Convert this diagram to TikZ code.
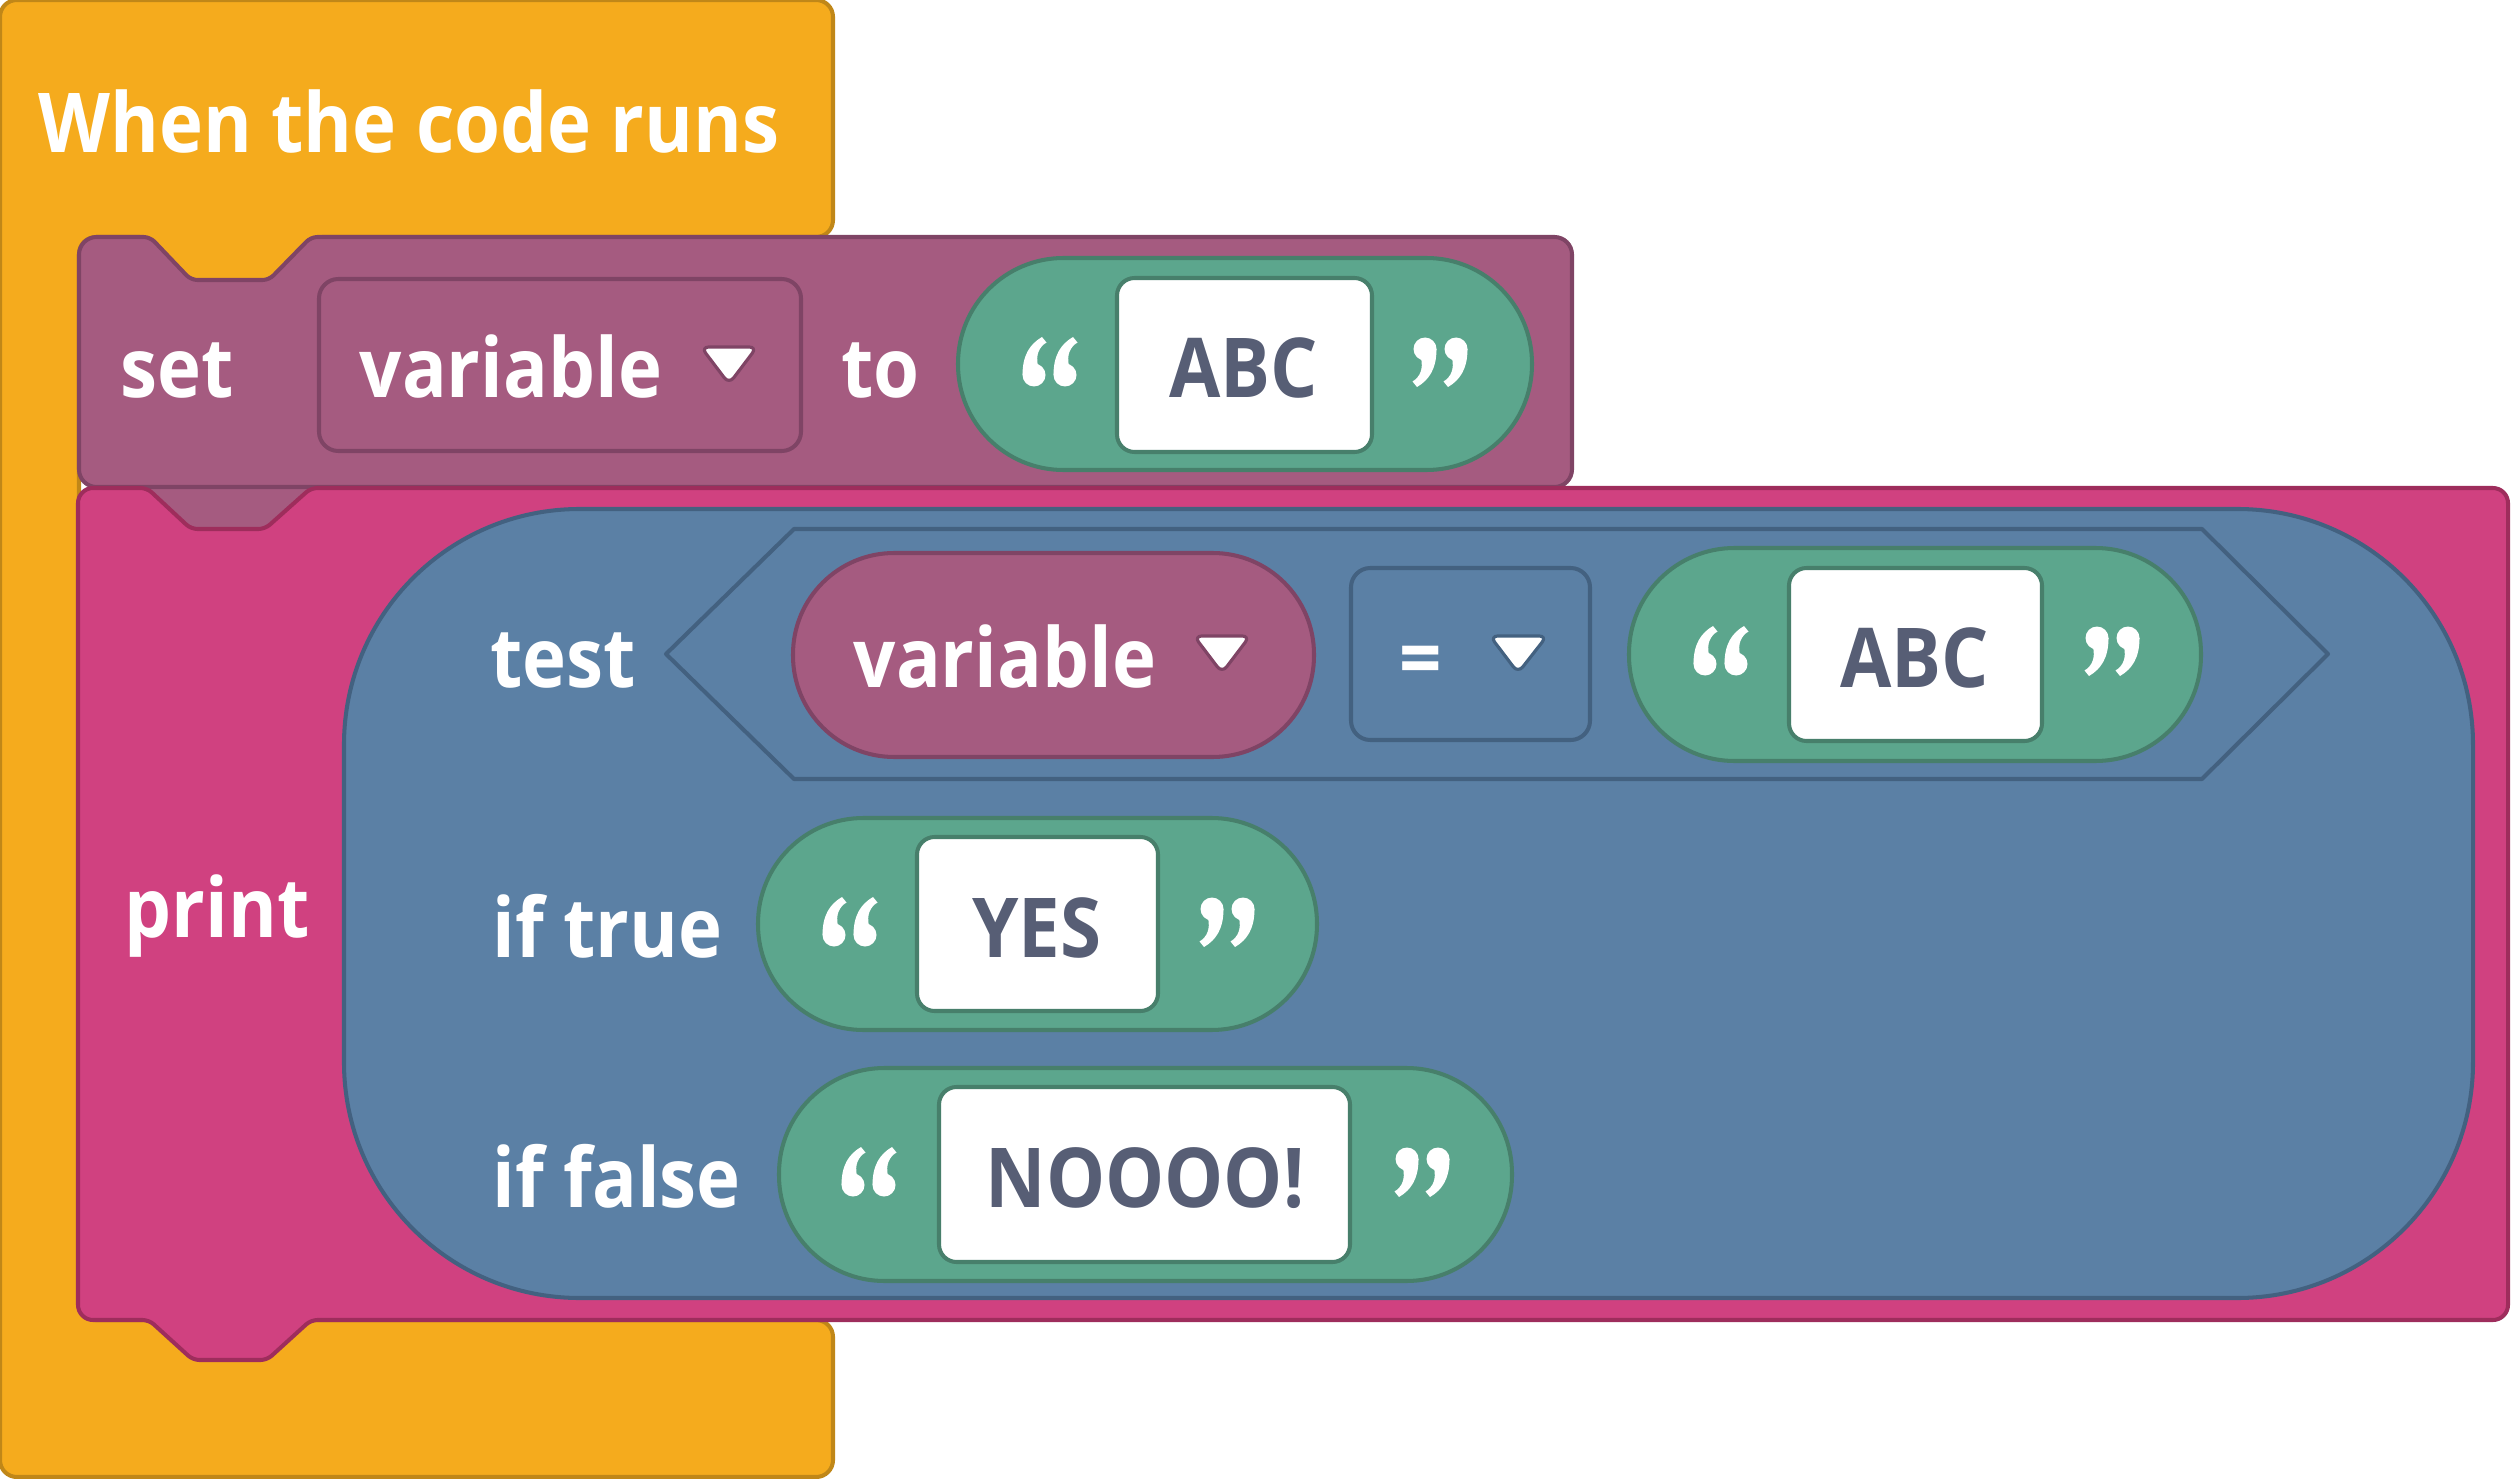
\documentclass[tikz,border=0pt]{standalone}
\usepackage{fontspec}
\setmainfont{Open Sans}[FakeStretch=0.9]
\definecolor{hatfill}{HTML}{F5AB1D}
\definecolor{hatline}{HTML}{C08718}
\definecolor{varfill}{HTML}{A55B80}
\definecolor{varline}{HTML}{7F4465}
\definecolor{printfill}{HTML}{D04180}
\definecolor{printline}{HTML}{9E2D5C}
\definecolor{logicfill}{HTML}{5B80A5}
\definecolor{logicline}{HTML}{436180}
\definecolor{strfill}{HTML}{5CA68D}
\definecolor{strline}{HTML}{477F6B}
\definecolor{ink}{HTML}{575E75}
\newcommand\lblfont{\fontsize{23.5}{28}\selectfont\bfseries}
\begin{document}
\begin{tikzpicture}[x=0.01cm,y=-0.01cm,line join=round,
  edge/.style={line width=1.15pt},
  hatblock/.style={edge,fill=hatfill,draw=hatline},
  varblock/.style={edge,fill=varfill,draw=varline},
  printblock/.style={edge,fill=printfill,draw=printline},
  logicblock/.style={edge,fill=logicfill,draw=logicline},
  strblock/.style={edge,fill=strfill,draw=strline},
  whitebox/.style={edge,fill=white,draw=strline},
  lbl/.style={text=white,font=\lblfont,inner sep=0pt,anchor=base west},
  val/.style={text=ink,font=\lblfont,inner sep=0pt,anchor=base},
  caret/.style={fill=white,draw=#1,line width=0.9pt,rounded corners=2.2pt},
  % opening double quote centred on its origin; rotate by 180 for closing
  dquote/.pic={
    \foreach \dx in {-16,15} {
      \begin{scope}[shift={(\dx,13)}]
        \fill[white] (0,0) circle[radius=11.5];
        \fill[white] (-11.5,0) .. controls (-11.5,-20) and (-4,-31) .. (8,-38)
          -- (12.5,-32.5) .. controls (5,-28) and (1.5,-20) .. (4,-9) -- cycle;
      \end{scope}
    }
  }]
\useasboundingbox (0,0) rectangle (2511,1479);

% hat block "When the code runs" (C-shaped)
\draw[hatblock,rounded corners=4.8pt] (0,700) -- (0,0) -- (833,0) -- (833,237)
  -- (79,237) -- (79,1320) -- (833,1320) -- (833,1477) -- (0,1477) -- cycle;
\fill[hatfill] (140,232) rectangle (322,292);

% set block
\fill[varfill] (140,480) rectangle (322,540);
\draw[varblock] (79,360) [rounded corners=5pt] -- (79,237) [rounded corners=1.8pt]
  -- (150,237) -- (191,280) -- (269,280) -- (311,237) [rounded corners=5pt]
  -- (1572,237) -- (1572,487) -- (79,487) -- cycle;

% print block
\draw[printblock] (78,900) [rounded corners=4.3pt] -- (78,488) [rounded corners=1.8pt]
  -- (147,488) -- (191,529) -- (265,529) -- (311,488) [rounded corners=4.3pt]
  -- (2508,488) -- (2508,1320) [rounded corners=1.8pt] -- (311,1320) -- (267,1360)
  -- (193,1360) -- (149,1320) [rounded corners=4.3pt] -- (78,1320) -- cycle;

% ternary block
\draw[logicblock,rounded corners=67pt] (344,509) rectangle (2473,1298);
\draw[logicblock] (666,654) -- (794,529) -- (2202,529) -- (2328,654)
  -- (2202,779) -- (794,779) -- cycle;

% set row contents
\draw[varblock,rounded corners=5.5pt] (319,279) rectangle (801,451);
\draw[strblock,rounded corners=30pt] (958,258) rectangle (1532,470);
\draw[whitebox,rounded corners=5pt] (1117,278) rectangle (1372,452);
\draw[caret=varline] (701,347) -- (757,347) -- (729,384) -- cycle;

% test row contents
\draw[varblock,rounded corners=28.8pt] (793,553) rectangle (1314,757);
\draw[logicblock,rounded corners=5.5pt] (1351,568) rectangle (1590,740);
\draw[strblock,rounded corners=30pt] (1629,548) rectangle (2201,761);
\draw[whitebox,rounded corners=5pt] (1789,568) rectangle (2042,741);
\draw[caret=varline] (1194,636) -- (1250,636) -- (1222,673) -- cycle;
\draw[caret=logicline] (1490,636) -- (1547,636) -- (1518,673) -- cycle;

% if true / if false values
\draw[strblock,rounded corners=30pt] (758,818) rectangle (1317,1030);
\draw[whitebox,rounded corners=5pt] (917,837) rectangle (1158,1011);
\draw[strblock,rounded corners=30pt] (779,1068) rectangle (1512,1281);
\draw[whitebox,rounded corners=5pt] (939,1087) rectangle (1350,1262);

% quote marks around the text values
\pic (q1l) at (1050,362) {dquote};
\pic[rotate=180] (q1r) at (1440,362) {dquote};
\pic (q2l) at (1721,651) {dquote};
\pic[rotate=180] (q2r) at (2112,651) {dquote};
\pic (q3l) at (850,922) {dquote};
\pic[rotate=180] (q3r) at (1227,922) {dquote};
\pic (q4l) at (869,1172) {dquote};
\pic[rotate=180] (q4r) at (1422,1172) {dquote};

% labels
\node[lbl] (hat) at (38,153) {When the code runs};
\node[lbl] (set) at (120,397) {set};
\node[lbl] (setvar) at (359,397) {variable};
\node[lbl] (to) at (841,397) {to};
\node[val] (abc1) at (1244,397) {ABC};

\node[lbl] (print) at (124,937) {print};
\node[lbl] (test) at (490,687) {test};
\node[lbl] (testvar) at (853,687) {variable};
\node[text=white,font=\lblfont,inner sep=0pt,anchor=base] (eq) at (1421,687) {=};
\node[val] (abc2) at (1915,687) {ABC};

\node[lbl] (iftrue) at (492,957) {if true};
\node[val] (yes) at (1037,957) {YES};

\node[lbl] (iffalse) at (492,1207) {if false};
\node[val] (no) at (1145,1207) {NOOOO!};
\end{tikzpicture}
\end{document}
